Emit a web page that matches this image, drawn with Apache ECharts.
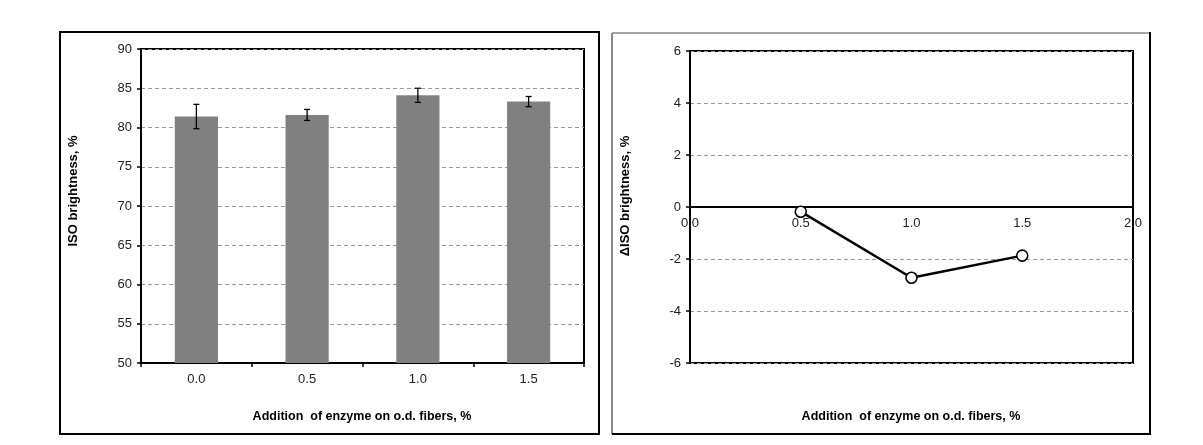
<!DOCTYPE html>
<html>
<head>
<meta charset="utf-8">
<script src="https://cdn.jsdelivr.net/npm/echarts@6/dist/echarts.min.js"></script>
<style>
html,body{margin:0;padding:0;background:#fff;}
#c{width:1203px;height:445px;}
</style>
</head>
<body>
<div id="c"></div>
<script>
// Left panel: ISO brightness bars
const categories = ['0.0', '0.5', '1.0', '1.5'];
const brightness = [81.4, 81.6, 84.1, 83.3];
const brightnessErr = [1.55, 0.7, 0.9, 0.65];
// Right panel: change in ISO brightness
const deltaX = [0.5, 1.0, 1.5];
const deltaY = [-0.18, -2.72, -1.87];
// Axis settings
const leftYTicks = {min: 50, max: 90, interval: 5};
const rightYTicks = {min: -6, max: 6, interval: 2};
const rightXTicks = {min: 0, max: 2, interval: 0.5};
const xTitle = 'Addition  of enzyme on o.d. fibers, %';
const leftYTitle = 'ISO brightness, %';
const rightYTitle = '\u0394ISO brightness, %';

const FONT = '"Liberation Sans", Arial, sans-serif';
const chart = echarts.init(document.getElementById('c'), null, {renderer: 'canvas'});

const errData = categories.map((c, i) => [i, brightness[i] - brightnessErr[i], brightness[i] + brightnessErr[i]]);
const lineData = deltaX.map((x, i) => [x, deltaY[i]]);

const tickLabel = {color: '#222', fontFamily: FONT, fontSize: 13};
const dashed = {show: true, lineStyle: {color: '#999', type: [4, 3], width: 1}};

// right grid geometry (pixels) -> x axis sits at value 0
const rTop = 51, rBottom = 82, rHeight = 445 - rTop - rBottom;
const zeroOffset = -rHeight * (0 - rightYTicks.min) / (rightYTicks.max - rightYTicks.min);

chart.setOption({
  animation: false,
  backgroundColor: '#fff',
  grid: [
    {left: 141, right: 619, top: 49, bottom: 82, show: true, borderColor: '#000', borderWidth: 2, backgroundColor: 'transparent'},
    {left: 690, right: 70, top: rTop, bottom: rBottom, show: true, borderColor: '#000', borderWidth: 2, backgroundColor: 'transparent'}
  ],
  xAxis: [
    {
      type: 'category', gridIndex: 0, data: categories,
      axisLine: {lineStyle: {color: '#000', width: 2}},
      axisTick: {show: true, length: 4, lineStyle: {color: '#000', width: 1.5}},
      axisLabel: Object.assign({margin: 10}, tickLabel),
      splitLine: {show: false}
    },
    {
      type: 'value', gridIndex: 1, offset: zeroOffset,
      min: rightXTicks.min, max: rightXTicks.max, interval: rightXTicks.interval,
      axisLine: {onZero: false, lineStyle: {color: '#000', width: 2}},
      axisTick: {show: false},
      axisLabel: Object.assign({margin: 10, formatter: v => v.toFixed(1)}, tickLabel),
      splitLine: {show: false}
    }
  ],
  yAxis: [
    {
      type: 'value', gridIndex: 0,
      min: leftYTicks.min, max: leftYTicks.max, interval: leftYTicks.interval,
      axisLine: {show: true, lineStyle: {color: '#000', width: 2}},
      axisTick: {show: true, length: 4, lineStyle: {color: '#000', width: 1.5}},
      axisLabel: Object.assign({margin: 9}, tickLabel),
      splitLine: dashed
    },
    {
      type: 'value', gridIndex: 1,
      min: rightYTicks.min, max: rightYTicks.max, interval: rightYTicks.interval,
      axisLine: {show: true, onZero: false, lineStyle: {color: '#000', width: 2}},
      axisTick: {show: true, length: 4, lineStyle: {color: '#000', width: 1.5}},
      axisLabel: Object.assign({margin: 9}, tickLabel),
      splitLine: dashed
    }
  ],
  series: [
    {
      type: 'bar', xAxisIndex: 0, yAxisIndex: 0, data: brightness,
      barWidth: '39%', itemStyle: {color: '#808080'}, z: 2
    },
    {
      type: 'custom', xAxisIndex: 0, yAxisIndex: 0, data: errData, z: 5,
      renderItem: function (params, api) {
        const x = api.value(0);
        const lo = api.coord([x, api.value(1)]);
        const hi = api.coord([x, api.value(2)]);
        const cap = 3;
        const st = {stroke: '#000', lineWidth: 1.3};
        return {
          type: 'group',
          children: [
            {type: 'line', shape: {x1: lo[0], y1: lo[1], x2: hi[0], y2: hi[1]}, style: st},
            {type: 'line', shape: {x1: lo[0] - cap, y1: lo[1], x2: lo[0] + cap, y2: lo[1]}, style: st},
            {type: 'line', shape: {x1: hi[0] - cap, y1: hi[1], x2: hi[0] + cap, y2: hi[1]}, style: st}
          ]
        };
      }
    },
    {
      type: 'line', xAxisIndex: 1, yAxisIndex: 1, data: lineData,
      symbol: 'circle', symbolSize: 11, showAllSymbol: true,
      lineStyle: {color: '#000', width: 2.5},
      itemStyle: {color: '#fff', borderColor: '#000', borderWidth: 1.6},
      z: 5
    }
  ],
  graphic: [
    {type: 'rect', shape: {x: 60, y: 32, width: 539, height: 402}, style: {fill: 'none', stroke: '#000', lineWidth: 2}, z: -1},
    {type: 'line', shape: {x1: 612, y1: 33, x2: 1150, y2: 33}, style: {stroke: '#888', lineWidth: 1.5}, z: -1},
    {type: 'line', shape: {x1: 612, y1: 33, x2: 612, y2: 434}, style: {stroke: '#888', lineWidth: 2}, z: -1},
    {type: 'line', shape: {x1: 1150, y1: 32, x2: 1150, y2: 435}, style: {stroke: '#000', lineWidth: 2}, z: -1},
    {type: 'line', shape: {x1: 612, y1: 434, x2: 1151, y2: 434}, style: {stroke: '#000', lineWidth: 2}, z: -1},
    {type: 'text', x: 362, y: 417, style: {text: xTitle, font: 'bold 12.5px ' + FONT, fill: '#000', textAlign: 'center', textVerticalAlign: 'middle'}},
    {type: 'text', x: 911, y: 417, style: {text: xTitle, font: 'bold 12.5px ' + FONT, fill: '#000', textAlign: 'center', textVerticalAlign: 'middle'}},
    {type: 'text', x: 73, y: 191, rotation: Math.PI / 2, style: {text: leftYTitle, font: 'bold 13px ' + FONT, fill: '#000', textAlign: 'center', textVerticalAlign: 'middle'}},
    {type: 'text', x: 625, y: 196, rotation: Math.PI / 2, style: {text: rightYTitle, font: 'bold 13px ' + FONT, fill: '#000', textAlign: 'center', textVerticalAlign: 'middle'}}
  ]
});
</script>
</body>
</html>
